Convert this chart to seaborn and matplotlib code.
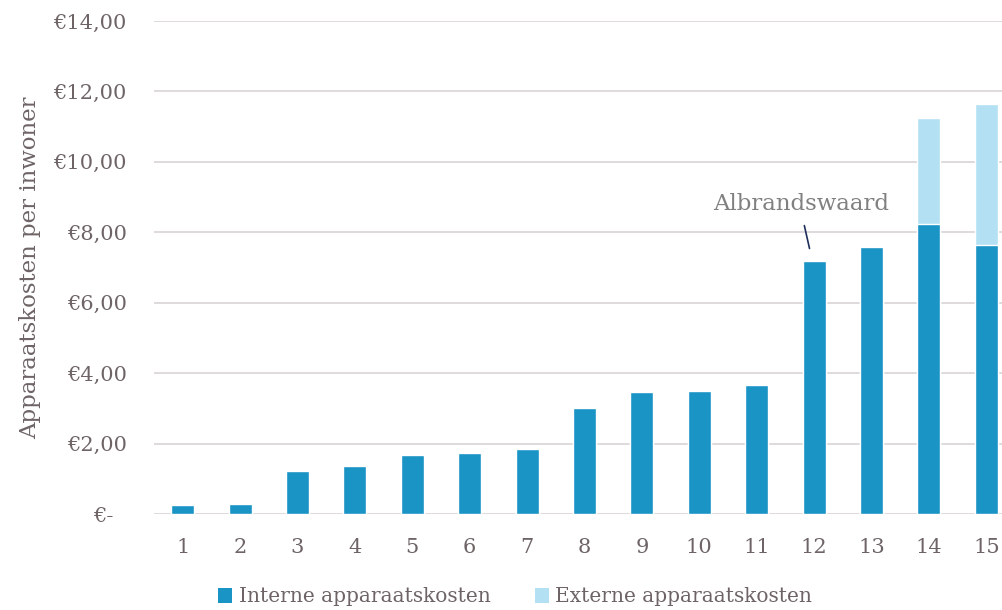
import matplotlib
matplotlib.use("Agg")
import matplotlib.pyplot as plt
import seaborn as sns
import pandas as pd
from matplotlib.patches import Patch

categories = [str(i) for i in range(1, 16)]
interne = [0.26, 0.27, 1.22, 1.36, 1.68, 1.73, 1.85, 3.01, 3.47, 3.49, 3.66, 7.19, 7.59, 8.24, 7.64]
externe = [0, 0, 0, 0, 0, 0, 0, 0, 0, 0, 0, 0, 0, 3.01, 4.01]
yticks = [0, 2, 4, 6, 8, 10, 12, 14]
ytick_labels = ["€-  ", "€2,00", "€4,00", "€6,00", "€8,00", "€10,00", "€12,00", "€14,00"]
series_names = ["Interne apparaatskosten", "Externe apparaatskosten"]
annotation_label = "Albrandswaard"

dark = "#1A93C5"
light = "#B3E1F3"
text_col = "#6E6466"
grid_col = "#DCD7D9"

sns.set_theme(style="white")
plt.rcParams["font.family"] = ["DejaVu Serif"]

df = pd.DataFrame({"cat": categories, "interne": interne, "externe": externe})
df["totaal"] = df["interne"] + df["externe"]

fig = plt.figure(figsize=(10.02, 6.1), dpi=100)
ax = fig.add_axes([154 / 1002, 96 / 610, 861 / 1002, 493 / 610])

sns.barplot(data=df, x="cat", y="totaal", color=light, saturation=1, width=0.4, ax=ax, zorder=2)
sns.barplot(data=df, x="cat", y="interne", color=dark, saturation=1, width=0.4, ax=ax, zorder=3)

ax.set_ylim(0, 14)
ax.set_xlim(-0.5, 14.5)
ax.set_yticks(yticks)
ax.set_yticklabels(ytick_labels, color=text_col, fontsize=15)
ax.tick_params(axis="y", length=0, pad=19.5)
ax.tick_params(axis="x", length=0, pad=17, labelsize=15, labelcolor=text_col)
ax.grid(axis="y", color=grid_col, linewidth=1.3, zorder=0)
ax.set_axisbelow(True)
for s in ax.spines.values():
    s.set_visible(False)
ax.set_xlabel("")
ax.set_ylabel("Apparaatskosten per inwoner", color=text_col, fontsize=16.5, labelpad=9)

# annotation for bar 12
ax.plot([10.83, 10.92], [interne[11] + 1.0, interne[11] + 0.35], color="#1F2F5C", lw=1.2, zorder=4)
ax.text(10.77, interne[11] + 1.62, annotation_label, ha="center", va="center",
        fontsize=16.5, color="#808080", zorder=4)

handles = [Patch(facecolor=dark, edgecolor="none"), Patch(facecolor=light, edgecolor="none")]
fig.legend(handles, series_names, loc="center", bbox_to_anchor=(515 / 1002, 1 - 597 / 610), ncol=2,
           frameon=False, fontsize=14.5, labelcolor=text_col, handlelength=0.7, handleheight=0.7,
           handletextpad=0.3, columnspacing=2.2)

fig.savefig("out.png", dpi=100)
